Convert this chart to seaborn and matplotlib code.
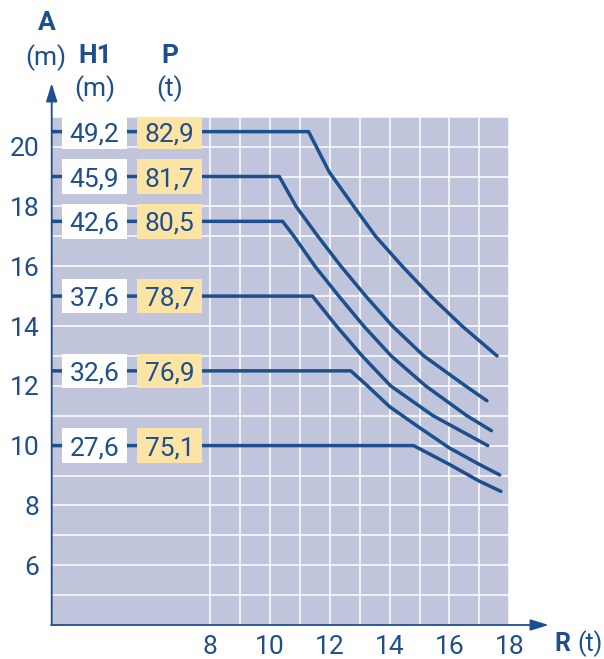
"""
Load chart: hook height A against load R for six jib configurations.
"""

import pandas as pd
import matplotlib.pyplot as plt
import seaborn as sns
from matplotlib import font_manager
from matplotlib.patches import Rectangle

# configuration rows (top to bottom)
A_LEVELS = [20.5, 19, 17.5, 15, 12.5, 10]
H1_LABELS = ["49,2", "45,9", "42,6", "37,6", "32,6", "27,6"]
P_LABELS = ["82,9", "81,7", "80,5", "78,7", "76,9", "75,1"]

# curve points (R in t, A in m)
R_START = 2.7
R1 = [R_START, 11.29, 11.98, 12.8, 13.53, 14.42, 15.37, 16.42, 17.59]
A1 = [20.5, 20.5, 19.15, 18.0, 17.0, 16.0, 15.0, 14.0, 13.0]
R2 = [R_START, 10.31, 10.87, 11.6, 12.37, 13.2, 14.09, 15.14, 16.53, 17.25]
A2 = [19.0, 19.0, 18.0, 17.0, 16.0, 15.0, 14.0, 13.0, 12.0, 11.5]
R3 = [R_START, 10.42, 10.8, 11.5, 12.3, 13.13, 14.05, 15.2, 16.58, 17.4]
A3 = [17.5, 17.5, 17.0, 16.0, 15.0, 14.0, 13.0, 12.0, 11.0, 10.5]
R4 = [R_START, 11.42, 12.22, 13.08, 14.03, 15.45, 17.28]
A4 = [15.0, 15.0, 14.0, 13.0, 12.0, 11.0, 10.0]
R5 = [R_START, 12.7, 13.2, 14.0, 15.0, 16.0, 17.0, 17.68]
A5 = [12.5, 12.5, 12.05, 11.3, 10.6, 9.92, 9.37, 9.02]
R6 = [R_START, 14.8, 16.0, 17.0, 17.72]
A6 = [10.0, 10.0, 9.37, 8.81, 8.47]

X_TICKS = [8, 10, 12, 14, 16, 18]
Y_TICKS = [6, 8, 10, 12, 14, 16, 18, 20]

BLUE = "#1c4f8e"
TEXT = "#1f4e8c"
BG = "#c0c5dc"
YELLOW = "#fce4a5"

W, H = 604, 659


def pick_font():
    names = {f.name for f in font_manager.fontManager.ttflist}
    for name in ["Liberation Sans Narrow", "Roboto", "DejaVu Sans"]:
        if name in names:
            return name
    return "DejaVu Sans"


def px(x, y):
    """pixel position -> figure fraction"""
    return x / W, 1 - y / H


sns.set_theme(style="white")
font = pick_font()
plt.rcParams["font.family"] = [font, "DejaVu Sans"]

curves = []
for i, (r, a) in enumerate([(R1, A1), (R2, A2), (R3, A3), (R4, A4), (R5, A5), (R6, A6)]):
    curves.append(pd.DataFrame({"R": r, "A": a, "curve": i}))
df = pd.concat(curves, ignore_index=True)

fig = plt.figure(figsize=(W / 100, H / 100), dpi=100)
ax = fig.add_axes([51.7 / W, 34 / H, 457.6 / W, 508.3 / H])
ax.set_facecolor(BG)

sns.lineplot(data=df, x="R", y="A", hue="curve", palette=[BLUE] * 6,
             estimator=None, sort=False, legend=False, linewidth=2.5, ax=ax, zorder=3)

ax.set_xlim(R_START, 18)
ax.set_ylim(4, 21)
ax.set_xticks(X_TICKS)
ax.set_yticks(Y_TICKS)
ax.set_xticks(range(9, 18, 2), minor=True)
ax.set_yticks(range(5, 22, 2), minor=True)
ax.grid(which="both", color="white", linewidth=1.1)
ax.set_axisbelow(True)
ax.tick_params(which="both", length=0, labelsize=19, labelcolor=TEXT)
ax.tick_params(axis="y", pad=9)
ax.tick_params(axis="x", pad=7)
ax.set_xlabel("")
ax.set_ylabel("")
for s in ax.spines.values():
    s.set_visible(False)

# axes with arrowheads
arrow = dict(arrowstyle="-|>,head_length=0.55,head_width=0.17", color=BLUE,
             lw=1.3, shrinkA=0, shrinkB=0, mutation_scale=20)
ax.annotate("", xy=(R_START, 22.12), xytext=(R_START, 4), arrowprops=arrow,
            annotation_clip=False, zorder=5)
ax.annotate("", xy=(19.32, 4), xytext=(R_START - 0.02, 4), arrowprops=arrow,
            annotation_clip=False, zorder=5)

# value boxes
bh = 1.15
for a, h1, p in zip(A_LEVELS, H1_LABELS, P_LABELS):
    ax.add_patch(Rectangle((3.04, a - bh / 2), 2.18, bh, facecolor="white",
                           edgecolor="none", zorder=4))
    ax.add_patch(Rectangle((5.54, a - bh / 2), 2.2, bh, facecolor=YELLOW,
                           edgecolor="none", zorder=4))
    ax.text(4.13, a, h1, ha="center", va="center_baseline", fontsize=19,
            color=TEXT, zorder=6)
    ax.text(6.64, a, p, ha="center", va="center_baseline", fontsize=19,
            color=TEXT, zorder=6)

# headers
heads = [
    ("A", 47, 23, "bold", 19), ("(m)", 46, 58, "normal", 19),
    ("H1", 95, 56, "bold", 19), ("(m)", 95, 89, "normal", 19),
    ("P", 170, 56, "bold", 19), ("(t)", 170, 89, "normal", 19),
    ("R", 562, 644, "bold", 18), ("(t)", 590, 644, "normal", 18),
]
for s, x, y, w, fs in heads:
    fx, fy = px(x, y)
    fig.text(fx, fy, s, ha="center", va="center", fontsize=fs,
             fontweight=w, color=TEXT)

fig.savefig("out.png", dpi=100)
